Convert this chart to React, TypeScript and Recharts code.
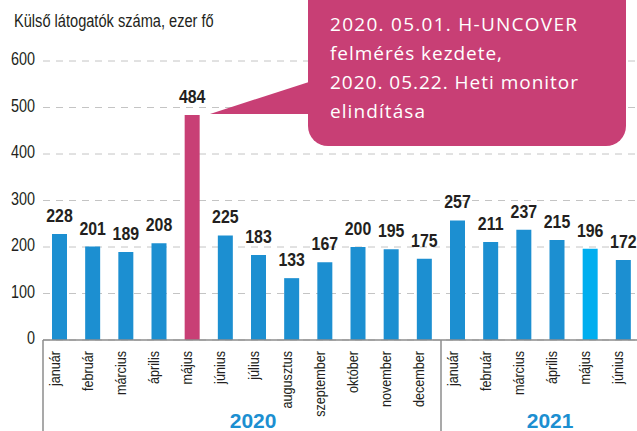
import React from 'react';
import { BarChart, Bar, XAxis, YAxis, CartesianGrid, LabelList, Cell } from 'recharts';

const SANS = "'Liberation Sans', Arial, sans-serif";
const CALLOUT_FONT = "'Open Sans', 'Noto Sans', sans-serif";

const months = ['január', 'február', 'március', 'április', 'május', 'június', 'július', 'augusztus', 'szeptember', 'október', 'november', 'december', 'január', 'február', 'március', 'április', 'május', 'június'];
const years = ['2020', '2020', '2020', '2020', '2020', '2020', '2020', '2020', '2020', '2020', '2020', '2020', '2021', '2021', '2021', '2021', '2021', '2021'];
const visitors = [228, 201, 189, 208, 484, 225, 183, 133, 167, 200, 195, 175, 257, 211, 237, 215, 196, 172];
const yTicks = [0, 100, 200, 300, 400, 500, 600];
const yearLabelAt: Record<number, string> = { 6: '2020', 15: '2021' };
const yearStarts = [0, 12];
const calloutLines = ['2020. 05.01. H-UNCOVER', 'felmérés kezdete,', '2020. 05.22. Heti monitor', 'elindítása'];
const calloutWidths = [247, 172, 248, 95];
const title = 'Külső látogatók száma, ezer fő';

const BLUE = '#1c8fd1';
const PINK = '#c83f75';
const LIGHT = '#00aeef';
const TEXT = '#231f20';
const barColors: Record<number, string> = { 4: PINK, 16: LIGHT };

const data = months.map((m, i) => ({ id: `${years[i]}-${i}`, month: m, value: visitors[i] }));

const MonthTick = (props: any) => {
  const { x, y, index, payload } = props;
  const half = payload && typeof payload.offset === 'number' && payload.offset > 0 ? payload.offset : 16.6;
  const axisY = y - 11;
  return (
    <g>
      <text
        transform={`translate(${x},${y}) rotate(-90) scale(0.84,1)`}
        textAnchor="end"
        fontSize={15}
        fill={TEXT}
        fontFamily={SANS}
      >
        {months[index]}
      </text>
      {yearStarts.includes(index) ? (
        <line x1={x - half} x2={x - half} y1={axisY} y2={axisY + 95} stroke="#8c8c8c" strokeWidth={1.5} />
      ) : null}
      {yearLabelAt[index] ? (
        <text x={x - (index === 6 ? 5.5 : 7)} y={axisY + 88} textAnchor="middle" fontSize={21} fontWeight="bold" fill={BLUE} fontFamily={SANS}>
          {yearLabelAt[index]}
        </text>
      ) : null}
    </g>
  );
};

const ValueTick = (props: any) => {
  const { x, y, payload } = props;
  return (
    <text transform={`translate(${x},${y + 4}) scale(0.8,1)`} textAnchor="end" fontSize={18} fill={TEXT} fontFamily={SANS}>
      {payload.value}
    </text>
  );
};

const BarValue = (props: any) => {
  const { x, y, width, value } = props;
  return (
    <text
      transform={`translate(${Number(x) + Number(width) / 2},${Number(y) - 12}) scale(0.86,1)`}
      textAnchor="middle"
      fontSize={18.5}
      fontWeight="bold"
      fill={TEXT}
      fontFamily={SANS}
    >
      {value}
    </text>
  );
};

export default function App() {
  return (
    <div style={{ position: 'absolute', left: 0, top: 0, width: 637, height: 431, overflow: 'hidden', background: '#fff' }}>
      <BarChart width={640} height={431} data={data} margin={{ top: 61, right: 0, bottom: 0, left: 0 }}>
        <CartesianGrid vertical={false} stroke="#c4c4c4" strokeDasharray="7 6" />
        <XAxis
          dataKey="id"
          height={91}
          tickLine={false}
          tickSize={0}
          tickMargin={11}
          interval={0}
          axisLine={{ stroke: '#8c8c8c', strokeWidth: 1.5 }}
          tick={<MonthTick />}
        />
        <YAxis
          width={43}
          domain={[0, 600]}
          ticks={yTicks}
          axisLine={false}
          tickLine={false}
          tick={<ValueTick />}
        />
        <Bar dataKey="value" barSize={15} fill={BLUE} isAnimationActive={false}>
          {data.map((d, i) => (
            <Cell key={d.id} fill={barColors[i] || BLUE} />
          ))}
          <LabelList dataKey="value" content={<BarValue />} />
        </Bar>
      </BarChart>
      <svg width={637} height={431} style={{ position: 'absolute', left: 0, top: 0, pointerEvents: 'none' }}>
        <text transform="translate(14,27) scale(0.79,1)" fontSize={18.5} fill={TEXT} fontFamily={SANS}>{title}</text>
        <path d="M210,114 L312,81 L312,114 Z" fill={PINK} />
        <rect x={308} y={-20} width={318} height={166} rx={20} ry={20} fill={PINK} />
        {calloutLines.map((t, i) => (
          <text
            key={i}
            x={330}
            y={30.5 + i * 29}
            fontSize={19}
            textLength={calloutWidths[i]}
            lengthAdjust="spacing"
            fill="#fff"
            fontFamily={CALLOUT_FONT}
          >
            {t}
          </text>
        ))}
      </svg>
    </div>
  );
}
